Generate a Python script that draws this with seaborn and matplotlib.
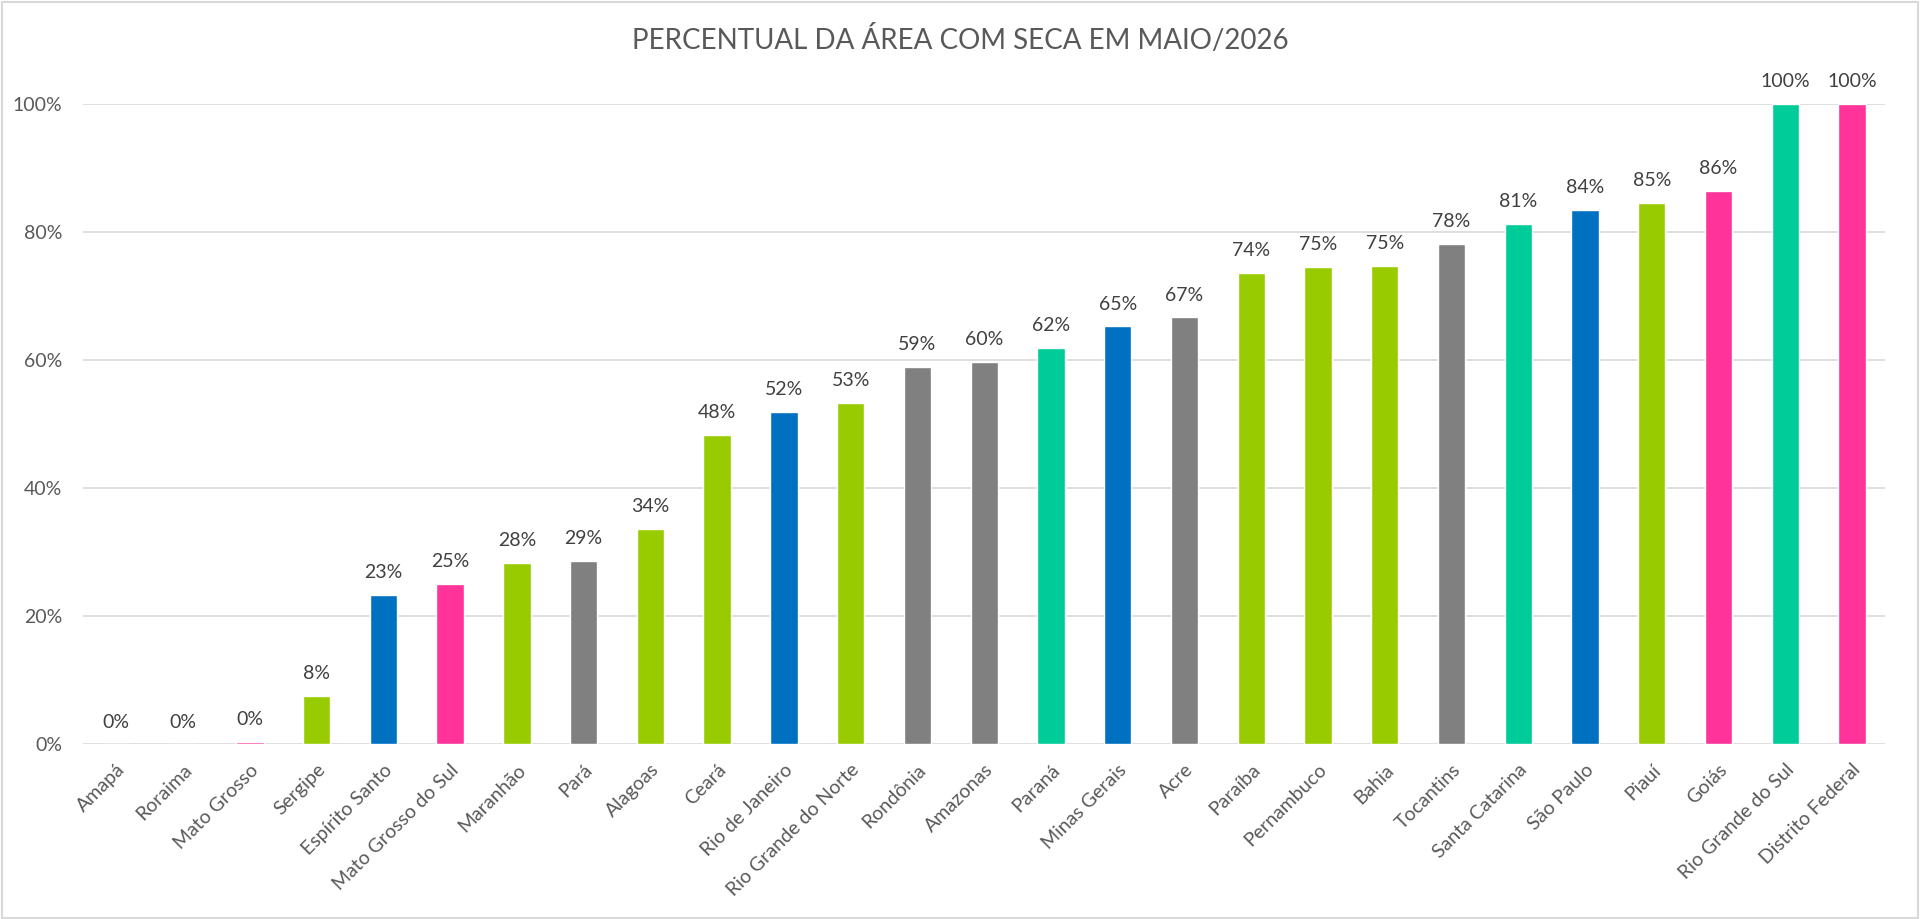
import pandas as pd
import numpy as np
import matplotlib
matplotlib.use('Agg')
import matplotlib.pyplot as plt
import seaborn as sns
from matplotlib.patches import Rectangle

# Dados (percentual da área com seca)
estados = ['Amapá', 'Roraima', 'Mato Grosso', 'Sergipe', 'Espírito Santo',
           'Mato Grosso do Sul', 'Maranhão', 'Pará', 'Alagoas', 'Ceará',
           'Rio de Janeiro', 'Rio Grande do Norte', 'Rondônia', 'Amazonas',
           'Paraná', 'Minas Gerais', 'Acre', 'Paraíba', 'Pernambuco', 'Bahia',
           'Tocantins', 'Santa Catarina', 'São Paulo', 'Piauí', 'Goiás',
           'Rio Grande do Sul', 'Distrito Federal']
percentual = [0.0, 0.0, 0.45, 7.6, 23.3, 25.0, 28.3, 28.6, 33.6, 48.4,
              51.9, 53.4, 59.0, 59.8, 61.9, 65.3, 66.7, 73.6, 74.6, 74.7,
              78.2, 81.3, 83.5, 84.6, 86.4, 100.0, 100.0]
regiao = ['Norte', 'Norte', 'Centro-Oeste', 'Nordeste', 'Sudeste',
          'Centro-Oeste', 'Nordeste', 'Norte', 'Nordeste', 'Nordeste',
          'Sudeste', 'Nordeste', 'Norte', 'Norte', 'Sul', 'Sudeste', 'Norte',
          'Nordeste', 'Nordeste', 'Nordeste', 'Norte', 'Sul', 'Sudeste',
          'Nordeste', 'Centro-Oeste', 'Sul', 'Centro-Oeste']
cores_regiao = {'Norte': '#808080', 'Nordeste': '#99CC00', 'Sudeste': '#0070C0',
                'Sul': '#00CC99', 'Centro-Oeste': '#FF3399'}
ticks_y = [0, 20, 40, 60, 80, 100]

df = pd.DataFrame({'Estado': estados, 'Percentual': percentual, 'Regiao': regiao})
paleta = [cores_regiao[r] for r in df['Regiao']]

sns.set_theme(style='white')
plt.rcParams['font.family'] = ['Lato', 'DejaVu Sans']

fig = plt.figure(figsize=(19.2, 9.19), dpi=100)
ax = fig.add_axes([0.0432, 0.190, 0.9388, 0.6965])

sns.barplot(data=df, x='Estado', y='Percentual', hue='Estado', palette=paleta,
            legend=False, width=0.41, saturation=1, ax=ax, zorder=3)

ax.set_xlim(-0.5, len(estados) - 0.5)
ax.set_ylim(0, 100)
ax.set_yticks(ticks_y)
ax.set_yticklabels([f'{t}%' for t in ticks_y], fontsize=14, color='#595959')
ax.yaxis.grid(True, color='#D9D9D9', linewidth=1.2, zorder=0)
ax.set_axisbelow(True)
ax.tick_params(axis='both', length=0)
ax.tick_params(axis='y', pad=15)
ax.tick_params(axis='x', pad=12)
ax.set_xticks(range(len(estados)))
ax.set_xticklabels(estados, rotation=45, ha='right', rotation_mode='anchor',
                   fontsize=14, color='#595959')
ax.set_xlabel('')
ax.set_ylabel('')
for s in ax.spines.values():
    s.set_visible(False)

# rótulos de dados
for i, v in enumerate(df['Percentual']):
    ax.annotate(f'{v:.0f}%', xy=(i, v), xytext=(0, 10), textcoords='offset points',
                ha='center', va='bottom', fontsize=14, color='#404040',
                annotation_clip=False)

fig.text(0.5, 0.9565, 'PERCENTUAL DA ÁREA COM SECA EM MAIO/2026',
         ha='center', va='center', fontsize=20, color='#595959')

# borda da área do gráfico
fig.patches.append(Rectangle((0.001, 0.001), 0.998, 0.997, transform=fig.transFigure,
                             fill=False, edgecolor='#D9D9D9', linewidth=1.5))

fig.savefig('out.png', dpi=100, facecolor='white')
